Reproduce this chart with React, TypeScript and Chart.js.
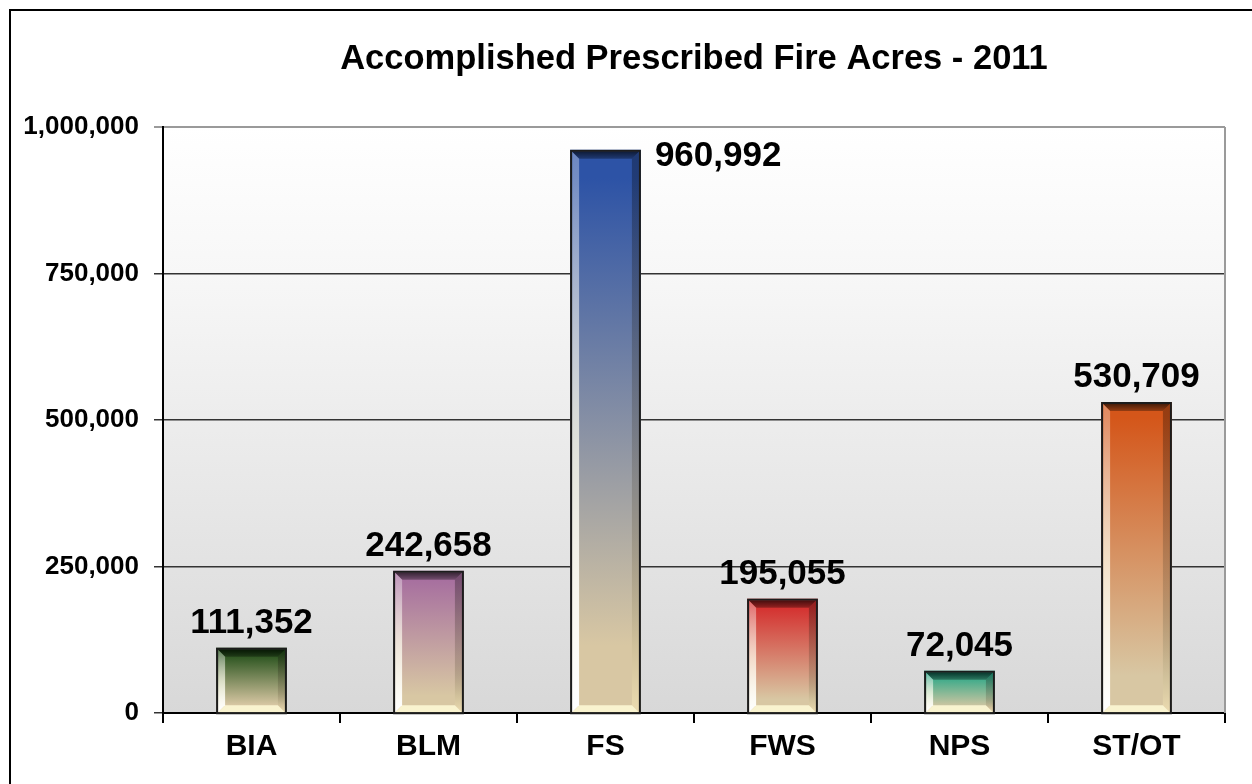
import React, { useEffect, useRef } from 'react';
import { Chart, registerables } from 'chart.js';

Chart.register(...registerables);

const categories = ['BIA', 'BLM', 'FS', 'FWS', 'NPS', 'ST/OT'];
const acres = [111352, 242658, 960992, 195055, 72045, 530709];
const topColors = ['#1c4a14', '#a66e9f', '#2d53a6', '#d42c2c', '#1fa585', '#d4561a'];
const yTicks = [0, 250000, 500000, 750000, 1000000];
const titleText = 'Accomplished Prescribed Fire Acres - 2011';

const BEIGE = '#d8c7a3';
const FONT = '"Liberation Sans", Arial, sans-serif';

const fmt = (v: number) => v.toLocaleString('en-US');

const framePlugin = {
  id: 'frame',
  beforeDraw(chart: any) {
    const { ctx, chartArea: a } = chart;
    ctx.save();
    ctx.fillStyle = '#ffffff';
    ctx.fillRect(0, 0, chart.width, chart.height);
    ctx.strokeStyle = '#000';
    ctx.lineWidth = 2;
    ctx.beginPath();
    ctx.moveTo(10, chart.height + 5);
    ctx.lineTo(10, 10);
    ctx.lineTo(chart.width + 5, 10);
    ctx.stroke();
    const g = ctx.createLinearGradient(0, a.top, 0, a.bottom);
    g.addColorStop(0, '#ffffff');
    g.addColorStop(0.25, '#f7f7f7');
    g.addColorStop(1, '#d8d8d8');
    ctx.fillStyle = g;
    ctx.fillRect(a.left, a.top, a.right - a.left, a.bottom - a.top);
    ctx.fillStyle = '#000';
    ctx.font = `bold 34.5px ${FONT}`;
    ctx.textAlign = 'center';
    ctx.textBaseline = 'alphabetic';
    ctx.fillText(titleText, (a.left + a.right) / 2, 69);
    ctx.restore();
  },
  beforeDatasetsDraw(chart: any) {
    const { ctx, chartArea: a } = chart;
    ctx.save();
    ctx.strokeStyle = '#9a9a9a';
    ctx.lineWidth = 2;
    ctx.beginPath();
    ctx.moveTo(a.right, a.top);
    ctx.lineTo(a.right, a.bottom);
    ctx.stroke();
    ctx.restore();
  },
};

const poly = (ctx: CanvasRenderingContext2D, pts: number[][], fill: any) => {
  ctx.beginPath();
  ctx.moveTo(pts[0][0], pts[0][1]);
  for (let i = 1; i < pts.length; i++) ctx.lineTo(pts[i][0], pts[i][1]);
  ctx.closePath();
  ctx.fillStyle = fill;
  ctx.fill();
};

const bevelPlugin = {
  id: 'bevel',
  afterDatasetsDraw(chart: any) {
    const ctx: CanvasRenderingContext2D = chart.ctx;
    const area = chart.chartArea;
    const meta = chart.getDatasetMeta(0);
    ctx.save();
    meta.data.forEach((el: any, i: number) => {
      const { x, y, base, width } = el.getProps(['x', 'y', 'base', 'width'], true);
      const L = x - width / 2 + 2;
      const R = x + width / 2 - 2;
      const T = y + 2;
      const B = base;
      const b = 7;
      const gt = ctx.createLinearGradient(0, T, 0, T + b);
      gt.addColorStop(0, 'rgba(0,0,0,0.65)');
      gt.addColorStop(1, 'rgba(0,0,0,0.3)');
      poly(ctx, [[L, T], [R, T], [R - b, T + b], [L + b, T + b]], gt);
      const gl = ctx.createLinearGradient(0, T, 0, B);
      gl.addColorStop(0, 'rgba(255,255,255,0.3)');
      gl.addColorStop(0.5, 'rgba(255,255,240,0.7)');
      gl.addColorStop(1, 'rgba(255,255,255,1)');
      poly(ctx, [[L, T], [L + b, T + b], [L + b, B - b], [L, B]], gl);
      const gr = ctx.createLinearGradient(0, T, 0, B);
      gr.addColorStop(0, 'rgba(0,0,0,0.3)');
      gr.addColorStop(0.6, 'rgba(60,50,30,0.2)');
      gr.addColorStop(1, 'rgba(255,240,190,0.5)');
      poly(ctx, [[R, T], [R, B], [R - b, B - b], [R - b, T + b]], gr);
      poly(ctx, [[L, B], [R, B], [R - b, B - b], [L + b, B - b]], 'rgba(255,250,215,0.85)');
      ctx.strokeStyle = '#1c1c1c';
      ctx.lineWidth = 2;
      ctx.strokeRect(x - width / 2 + 1, y + 1, width - 2, B - y);
      const text = fmt(acres[i]);
      ctx.fillStyle = '#000';
      ctx.font = `bold 35px ${FONT}`;
      ctx.textBaseline = 'alphabetic';
      const baseline = y - 15;
      if (baseline - 25 < area.top) {
        ctx.textAlign = 'left';
        ctx.fillText(text, x + width / 2 + 14, y + 16);
      } else {
        ctx.textAlign = 'center';
        ctx.fillText(text, x, baseline);
      }
    });
    ctx.restore();
  },
};

export default function App() {
  const ref = useRef<HTMLCanvasElement>(null);
  useEffect(() => {
    if (!ref.current) return;
    const chart = new Chart(ref.current, {
      type: 'bar',
      data: {
        labels: categories,
        datasets: [
          {
            data: acres,
            borderWidth: 0,
            barPercentage: 0.4,
            categoryPercentage: 1,
            backgroundColor: (c: any) => {
              const col = topColors[c.dataIndex] || '#888';
              const ch = c.chart;
              if (!ch.chartArea || c.type !== 'data' || !ch.scales.y) return col;
              const top = ch.scales.y.getPixelForValue(c.raw);
              const bottom = ch.scales.y.getPixelForValue(0);
              if (!isFinite(top) || !isFinite(bottom) || bottom - top < 1) return col;
              const g = ch.ctx.createLinearGradient(0, top, 0, bottom);
              g.addColorStop(0, col);
              g.addColorStop(0.05, col);
              g.addColorStop(0.88, BEIGE);
              g.addColorStop(1, BEIGE);
              return g;
            },
          },
        ],
      },
      options: {
        responsive: false,
        animation: false,
        layout: { padding: { top: 127, right: 27, left: 0, bottom: 0 } },
        plugins: {
          legend: { display: false },
          title: { display: false },
          tooltip: { enabled: false },
        },
        scales: {
          x: {
            offset: true,
            grid: {
              offset: true,
              drawOnChartArea: false,
              drawTicks: true,
              tickLength: 10,
              color: '#000',
              lineWidth: 2,
            },
            border: { color: '#000', width: 2 },
            ticks: {
              color: '#000',
              padding: 6,
              font: { family: FONT, size: 30, weight: 'bold' },
            },
            afterFit: (s: any) => {
              s.height = 71;
            },
          },
          y: {
            min: 0,
            max: 1000000,
            afterBuildTicks: (s: any) => {
              s.ticks = yTicks.map((v) => ({ value: v }));
            },
            grid: {
              color: (c: any) => (c.tick && c.tick.value === 1000000 ? '#9a9a9a' : '#333333'),
              lineWidth: (c: any) => (c.tick && c.tick.value === 1000000 ? 2 : 1.5),
              tickLength: 9,
              drawTicks: true,
            },
            border: { color: '#000', width: 2 },
            ticks: {
              color: '#000',
              padding: 15,
              font: { family: FONT, size: 26, weight: 'bold' },
              callback: (v: any) => fmt(Number(v)),
            },
            afterFit: (s: any) => {
              s.width = 163;
            },
          },
        },
      },
      plugins: [framePlugin, bevelPlugin],
    } as any);
    return () => chart.destroy();
  }, []);
  return (
    <canvas
      ref={ref}
      width={1252}
      height={784}
      style={{ position: 'absolute', left: 0, top: 0, display: 'block' }}
    />
  );
}
